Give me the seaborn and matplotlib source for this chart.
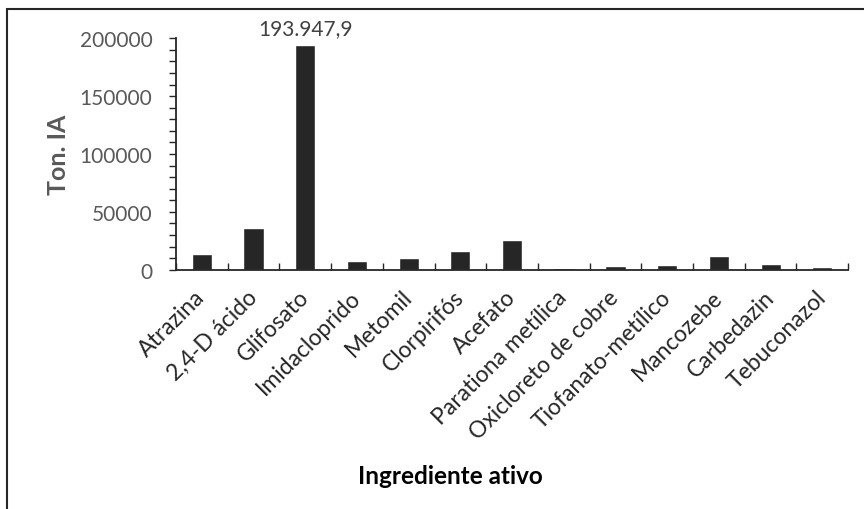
import numpy as np
import pandas as pd
import matplotlib
matplotlib.use("Agg")
import matplotlib.pyplot as plt
import seaborn as sns
from matplotlib.ticker import MultipleLocator, FixedLocator, NullFormatter
from matplotlib.patches import Rectangle

# Data (tonnes of active ingredient)
ingredientes = ['Atrazina', '2,4-D ácido', 'Glifosato', 'Imidacloprido', 'Metomil',
                'Clorpirifós', 'Acefato', 'Parationa metílica', 'Oxicloreto de cobre',
                'Tiofanato-metílico', 'Mancozebe', 'Carbedazin', 'Tebuconazol']
toneladas = [13600, 36200, 193947.9, 7700, 9700, 16200, 25900, 1800, 2800,
             4000, 12200, 5100, 2300]
destaque = 'Glifosato'

df = pd.DataFrame({'Ingrediente': ingredientes, 'Ton': toneladas})

sns.set_theme(style='white')
plt.rcParams['font.family'] = ['Lato', 'DejaVu Sans']

fig = plt.figure(figsize=(8.64, 5.10), dpi=100)
ax = fig.add_axes([0.2037, 0.4692, 0.778, 0.4537])

sns.barplot(data=df, x='Ingrediente', y='Ton', color='#262626', saturation=1,
            width=0.39, ax=ax)

ax.set_xlim(-0.5, len(ingredientes) - 0.5)
ax.set_ylim(0, 200000)

# y axis: labels every 50000, small outward ticks every 10000
ax.yaxis.set_major_locator(MultipleLocator(50000))
ax.yaxis.set_minor_locator(MultipleLocator(10000))
ax.tick_params(axis='y', which='both', direction='out', length=5, width=1,
               color='#262626', labelsize=15, labelcolor='#595959', pad=12, left=True)

# x axis: tick marks at category boundaries pointing up, labels at centres
ax.xaxis.set_minor_locator(FixedLocator(np.arange(-0.5, len(ingredientes), 1.0)))
ax.xaxis.set_minor_formatter(NullFormatter())
ax.tick_params(axis='x', which='minor', direction='in', length=5, width=1,
               color='#262626', bottom=True)
ax.tick_params(axis='x', which='major', length=0, pad=17, labelsize=16.5,
               labelcolor='#262626', bottom=True)
for lbl in ax.get_xticklabels():
    lbl.set_rotation(45)
    lbl.set_ha('right')
    lbl.set_va('center')
    lbl.set_rotation_mode('anchor')

for side in ['top', 'right']:
    ax.spines[side].set_visible(False)
for side in ['left', 'bottom']:
    ax.spines[side].set_color('#262626')
    ax.spines[side].set_linewidth(1.3)

ax.set_ylabel('Ton. IA', fontsize=18, fontweight='bold', color='#595959', labelpad=7)
ax.set_xlabel('Ingrediente ativo', fontsize=17.5, fontweight='bold', color='black')
ax.xaxis.set_label_coords(0.408, -0.89)
ax.xaxis.label.set_va('center')

# value label above the tallest bar, pt-BR number format
i = ingredientes.index(destaque)
v = toneladas[i]
txt = f"{v:,.1f}".replace(',', 'X').replace('.', ',').replace('X', '.')
ax.annotate(txt, xy=(i, v), xytext=(0, 5), textcoords='offset points',
            ha='center', va='bottom', fontsize=15, color='#404040',
            annotation_clip=False)

# chart area border (only top and left edges are visible in the crop)
fig.add_artist(Rectangle((7 / 864, -0.2), 1.2, 1.2 - 10 / 510, transform=fig.transFigure,
                         fill=False, edgecolor='#262626', linewidth=1.5, clip_on=False))

fig.savefig('out.png', dpi=100)
